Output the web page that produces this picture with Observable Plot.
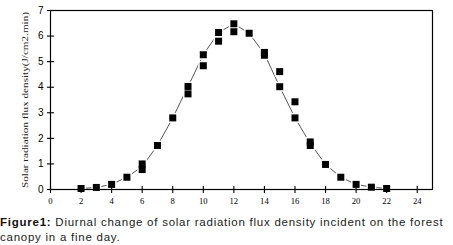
<!DOCTYPE html>
<html>
<head>
<meta charset="utf-8">
<script src="https://cdn.jsdelivr.net/npm/d3@7"></script>
<script src="https://cdn.jsdelivr.net/npm/@observablehq/plot@0.6"></script>
<style>
  html, body { margin: 0; padding: 0; background: #fff; }
  #chart svg { display: block; }
  #caption {
    width: 453px; margin-top: 7px;
    font-family: "Liberation Sans", Arial, sans-serif;
    font-size: 11.5px; line-height: 15px; color: #222;
    letter-spacing: 0.75px;
  }
  #caption b { font-weight: bold; color: #111; }
</style>
</head>
<body>
<div id="chart"></div>
<div id="caption"><b>Figure1:</b> Diurnal change of solar radiation flux density incident on the forest canopy in a fine day.</div>
<script>
// Measured points (hour of day, flux density)
const hours = [2,3,4,5,6,6,7,8,9,9,10,10,11,11,12,12,13,14,14,15,15,16,16,17,17,18,19,20,21,22];
const flux  = [0.04,0.08,0.2,0.48,0.78,1.0,1.72,2.8,3.74,4.03,4.84,5.27,5.8,6.14,6.17,6.48,6.11,5.25,5.36,4.02,4.61,2.8,3.43,1.72,1.86,0.98,0.48,0.2,0.09,0.04];
// Connecting line
const lineHours = [2,3,4,5,6,7,8,9,10,11,12,13,14,15,16,17,18,19,20,21,22];
const lineFlux  = [0.04,0.08,0.2,0.48,0.9,1.72,2.8,4.03,5.27,6.14,6.48,6.11,5.3,4.02,2.8,1.8,0.98,0.48,0.2,0.09,0.04];
// Axis ticks
const xTicks = [0,2,4,6,8,10,12,14,16,18,20,22,24];
const yTicks = [0,1,2,3,4,5,6,7];
const yTitle = "Solar radiation flux density(J/cm2.min)";

const points = hours.map((h, i) => ({h, v: flux[i]}));
const linePts = lineHours.map((h, i) => ({h, v: lineFlux[i]}));

const vTick = {draw(ctx) { ctx.moveTo(0, -3.5); ctx.lineTo(0, 3.5); }};
const hTick = {draw(ctx) { ctx.moveTo(-3.5, 0); ctx.lineTo(3.5, 0); }};

const chart = Plot.plot({
  width: 453,
  height: 208,
  marginTop: 10,
  marginBottom: 19,
  marginLeft: 50,
  marginRight: 21,
  x: {domain: [0, 25]},
  y: {domain: [0, 7]},
  style: {background: "white", color: "black"},
  marks: [
    Plot.line(linePts, {x: "h", y: "v", stroke: "#555", strokeWidth: 1}),
    Plot.dot(points, {x: "h", y: "v", symbol: "square", r: 5.6, fill: "white"}),
    Plot.dot(points, {x: "h", y: "v", symbol: "square", r: 3.95, fill: "black"}),
    Plot.frame({stroke: "black", strokeWidth: 1.2}),
    Plot.dot(xTicks, {x: d => d, y: 0, symbol: vTick, stroke: "black", strokeWidth: 1.1, fill: "none"}),
    Plot.dot(yTicks, {x: 0, y: d => d, symbol: hTick, stroke: "black", strokeWidth: 1.1, fill: "none"}),
    Plot.axisX(xTicks, {tickSize: 0, tickPadding: 8, fontFamily: "Liberation Serif, serif", fontSize: 8.6, label: null}),
    Plot.axisY(yTicks, {tickSize: 0, tickPadding: 7, fontFamily: "Liberation Sans, Arial, sans-serif", fontSize: 10, label: null}),
    Plot.text([yTitle], {frameAnchor: "left", textAnchor: "middle", dx: -25, rotate: -90, fontFamily: "Liberation Serif, serif", fontSize: 8.6, fill: "#222"})
  ]
});
document.getElementById("chart").appendChild(chart);
// fit the rotated title to the plot height like the reference
d3.select(chart).selectAll("text").filter(function() { return this.textContent === yTitle; })
  .attr("textLength", 176).attr("lengthAdjust", "spacingAndGlyphs");
</script>
</body>
</html>
